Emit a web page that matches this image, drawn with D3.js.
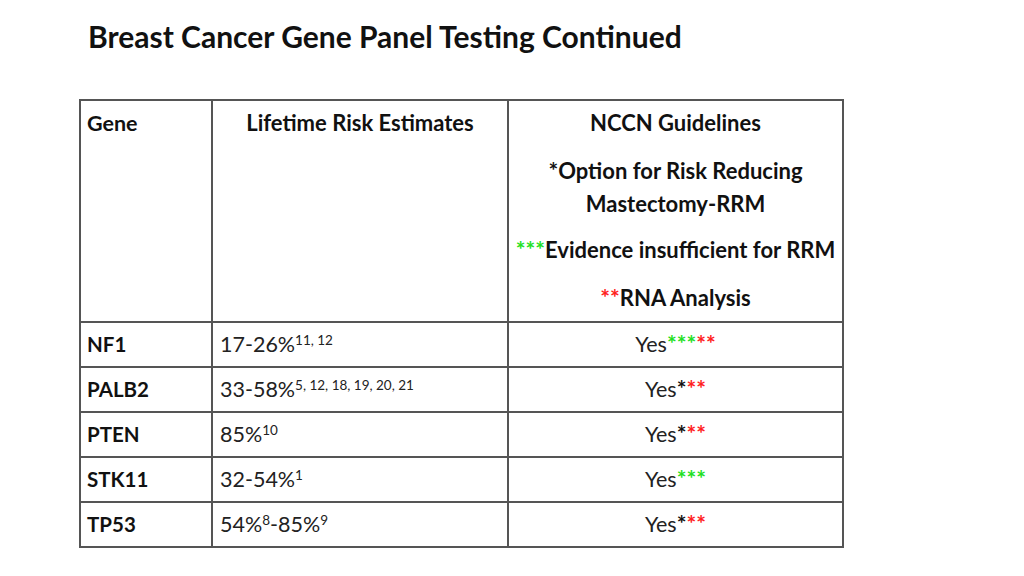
<!DOCTYPE html>
<html><head><meta charset="utf-8">
<script src="https://cdn.jsdelivr.net/npm/d3@7"></script>
<style>body{margin:0;background:#fff;} svg{display:block;}</style>
</head><body>
<script>
const title = "Breast Cancer Gene Panel Testing Continued";
const columns = ["Gene", "Lifetime Risk Estimates", "NCCN Guidelines"];
const headerNotes = [
  [{t:"*", c:"black"}, {t:"Option for Risk Reducing"}],
  [{t:"Mastectomy-RRM"}],
  [{t:"***", c:"green"}, {t:"Evidence insufficient for RRM"}],
  [{t:"**", c:"red"}, {t:"RNA Analysis"}]
];
const genes = ["NF1", "PALB2", "PTEN", "STK11", "TP53"];
const risks = [
  [{t:"17-26%"}, {t:"11, 12", sup:true}],
  [{t:"33-58%"}, {t:"5, 12, 18, 19, 20, 21", sup:true}],
  [{t:"85%"}, {t:"10", sup:true}],
  [{t:"32-54%"}, {t:"1", sup:true}],
  [{t:"54%"}, {t:"8", sup:true}, {t:"-85%"}, {t:"9", sup:true}]
];
const guidelines = [
  ["green","green","green","red","red"],
  ["black","red","red"],
  ["black","red","red"],
  ["green","green","green"],
  ["black","red","red"]
];

const W = 1024, H = 576;
const colorMap = {black:"#111", green:"#22e022", red:"#ff2020"};
const svg = d3.select("body").append("svg").attr("width", W).attr("height", H);
const FONT = "Lato, 'Open Sans', sans-serif";

svg.append("text").attr("x", 88).attr("y", 48)
  .attr("font-family", FONT).attr("font-weight", 700).attr("font-size", 30)
  .attr("fill", "#111").text(title);

const colEdges = [80, 212, 508, 843];
const x = d3.scaleOrdinal().domain(d3.range(4)).range(colEdges);
const rowEdgesIdx = d3.range(genes.length + 2);
const y = d3.scaleLinear().domain([1, genes.length + 1]).range([322, 547]);
const rowTop = i => i === 0 ? 100 : y(i);

const g = svg.append("g");
const headerSize = 22, bodySize = 21.5;
g.append("text").attr("x", 87).attr("y", 131).attr("font-family", FONT).attr("font-weight", 700)
  .attr("font-size", 21.5).attr("fill", "#111").text(columns[0]);
g.append("text").attr("x", (x(1)+x(2))/2).attr("y", 131).attr("text-anchor","middle").attr("font-family", FONT).attr("font-weight", 700)
  .attr("font-size", headerSize).attr("fill", "#111").text(columns[1]);
const c3 = (x(2)+x(3))/2;
g.append("text").attr("x", c3).attr("y", 131).attr("text-anchor","middle").attr("font-family", FONT).attr("font-weight", 700)
  .attr("font-size", headerSize).attr("fill", "#111").text(columns[2]);
const noteY = [179, 212, 258, 306];
headerNotes.forEach((parts, i) => {
  const t = g.append("text").attr("x", c3).attr("y", noteY[i]).attr("text-anchor","middle")
    .attr("font-family", FONT).attr("font-weight", 700).attr("font-size", headerSize).attr("fill", "#111");
  parts.forEach(p => {
    const s = t.append("tspan").attr("fill", p.c ? colorMap[p.c] : "#111").text(p.t);
    if (p.c) s.attr("font-size", 23);
  });
});

genes.forEach((gname, i) => {
  const yc = (y(i+1) + y(i+2)) / 2 + 7;
  g.append("text").attr("x", 87).attr("y", yc).attr("font-family", FONT).attr("font-weight", 700)
    .attr("font-size", 20.5).attr("fill", "#111").text(gname);
  const t = g.append("text").attr("x", 220).attr("y", yc).attr("font-family", FONT)
    .attr("font-size", bodySize).attr("fill", "#222");
  risks[i].forEach(p => {
    const s = t.append("tspan").text(p.t);
    if (p.sup) s.attr("font-size", 13.5).attr("baseline-shift", "7");
  });
  const t2 = g.append("text").attr("x", c3).attr("y", yc).attr("text-anchor","middle").attr("font-family", FONT)
    .attr("font-size", bodySize).attr("fill", "#222");
  t2.append("tspan").text("Yes");
  guidelines[i].forEach(c => t2.append("tspan").attr("fill", colorMap[c]).attr("font-size", 23).attr("font-weight", 700).text("*"));
});

const lineColor = "#555";
rowEdgesIdx.forEach(i => {
  g.append("line").attr("x1", 80).attr("x2", 843).attr("y1", rowTop(i)).attr("y2", rowTop(i))
    .attr("stroke", lineColor).attr("stroke-width", 2);
});
colEdges.forEach((cx, i) => {
  g.append("line").attr("x1", x(i)).attr("x2", x(i)).attr("y1", 99).attr("y2", 548)
    .attr("stroke", lineColor).attr("stroke-width", 2);
});
</script>
</body></html>
